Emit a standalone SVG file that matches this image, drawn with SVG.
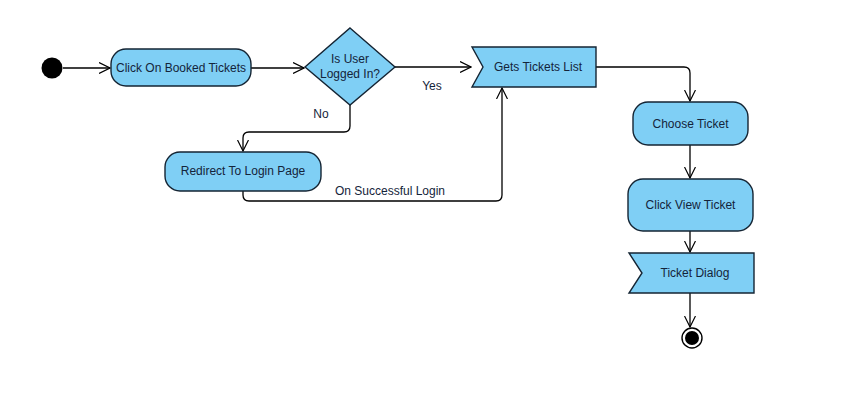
<svg xmlns="http://www.w3.org/2000/svg" width="852" height="408" viewBox="0 0 852 408">
<style>
.n{fill:#7fcff5;stroke:#142433;stroke-width:1.4}
.t{font-family:"Liberation Sans",Arial,sans-serif;font-size:12px;fill:#14243a;text-anchor:middle;dominant-baseline:central}
.l{font-family:"Liberation Sans",Arial,sans-serif;font-size:12px;fill:#14243a;text-anchor:middle}
.c{fill:none;stroke:#000;stroke-width:1.3}
</style>
<defs>
<marker id="a" markerWidth="12" markerHeight="12" refX="11" refY="6" orient="auto" markerUnits="userSpaceOnUse">
<path d="M0,0.5 L11,6 L0,11.5" fill="none" stroke="#000" stroke-width="1.2"/>
</marker>
</defs>
<rect width="852" height="408" fill="#fff"/>
<g id="connectors">
<path class="c" d="M63,68 H110" marker-end="url(#a)"/>
<path class="c" d="M251,68 H304" marker-end="url(#a)"/>
<path class="c" d="M395,67 H471" marker-end="url(#a)"/>
<path class="c" d="M350,105 V126 Q350,132 344,132 H249 Q243,132 243,138 V151" marker-end="url(#a)"/>
<path class="c" d="M243,191 V195 Q243,201 249,201 H496 Q502,201 502,195 V88" marker-end="url(#a)"/>
<path class="c" d="M596,67 H684 Q690,67 690,73 V101" marker-end="url(#a)"/>
<path class="c" d="M690,145 V178" marker-end="url(#a)"/>
<path class="c" d="M690,231 V252" marker-end="url(#a)"/>
<path class="c" d="M690,293 V327" marker-end="url(#a)"/>
<text class="l" x="432" y="90">Yes</text>
<text class="l" x="321" y="118">No</text>
<text class="l" x="390" y="195">On Successful Login</text>
</g>
<g id="start"><circle cx="52" cy="68" r="10.5" fill="#000"/></g>
<g id="clickBooked"><rect class="n" x="111" y="49" width="140" height="37" rx="15"/><text class="t" x="181" y="67.5">Click On Booked Tickets</text></g>
<g id="decision"><polygon class="n" points="350,28 395,67 350,105 305,67"/><text class="t" x="350" y="59">Is User</text><text class="t" x="350" y="74">Logged In?</text></g>
<g id="getsList"><polygon class="n" points="472,47 596,47 596,87 472,87 483,67"/><text class="t" x="538" y="67">Gets Tickets List</text></g>
<g id="redirect"><rect class="n" x="165" y="152" width="156" height="39" rx="15"/><text class="t" x="243" y="171">Redirect To Login Page</text></g>
<g id="choose"><rect class="n" x="633" y="102" width="115" height="43" rx="15"/><text class="t" x="690.5" y="123.5">Choose Ticket</text></g>
<g id="clickView"><rect class="n" x="628" y="179" width="125" height="52" rx="15"/><text class="t" x="690.5" y="205">Click View Ticket</text></g>
<g id="dialog"><polygon class="n" points="629,253 754,253 754,293 629,293 642,273"/><text class="t" x="695" y="273">Ticket Dialog</text></g>
<g id="end"><circle cx="692" cy="338" r="10" fill="#fff" stroke="#000" stroke-width="1.4"/><circle cx="692" cy="338" r="7" fill="#000"/></g>
</svg>
